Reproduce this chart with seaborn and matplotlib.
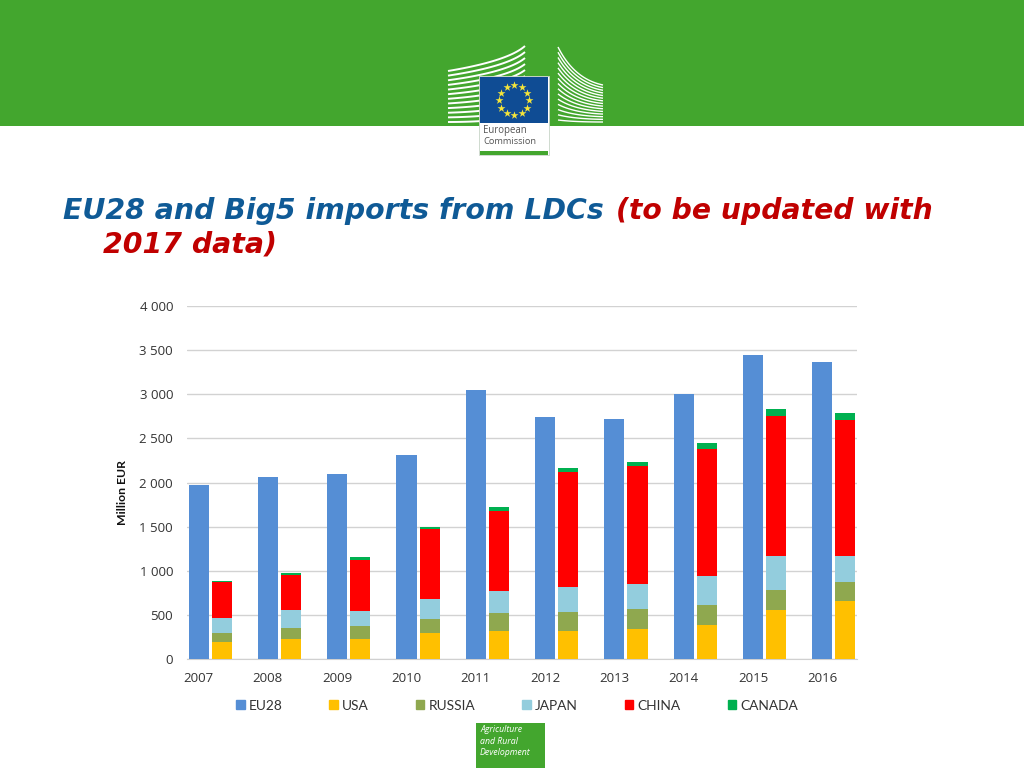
import matplotlib
matplotlib.use("Agg")
import matplotlib.pyplot as plt
from matplotlib.patches import Rectangle, Patch
import seaborn as sns
import pandas as pd
import numpy as np

years = ["2007", "2008", "2009", "2010", "2011", "2012", "2013", "2014", "2015", "2016"]
eu28 = [1970, 2062, 2096, 2311, 3048, 2738, 2722, 2998, 3440, 3361]
usa = [188, 229, 229, 293, 317, 317, 336, 381, 551, 653]
russia = [108, 120, 142, 165, 204, 215, 227, 231, 231, 215]
japan = [173, 210, 177, 221, 246, 284, 290, 332, 388, 302]
china = [401, 397, 573, 791, 906, 1306, 1333, 1435, 1587, 1537]
canada = [15, 23, 30, 25, 45, 42, 46, 64, 71, 80]
y_ticks = [0, 500, 1000, 1500, 2000, 2500, 3000, 3500, 4000]

GREEN = "#43A62E"
colors = {"EU28": "#558ED5", "USA": "#FFC000", "RUSSIA": "#8FA84F",
          "JAPAN": "#93CDDD", "CHINA": "#FF0000", "CANADA": "#00B050"}
stack_names = ["USA", "RUSSIA", "JAPAN", "CHINA", "CANADA"]
stack_values = [usa, russia, japan, china, canada]

sns.set_style("white")
plt.rcParams["font.family"] = ["Open Sans", "DejaVu Sans"]

fig = plt.figure(figsize=(10.24, 7.68), dpi=100)


def bezier(p0, p1, p2, n=40):
    t = np.linspace(0, 1, n)[:, None]
    p0, p1, p2 = np.array(p0), np.array(p1), np.array(p2)
    return (1 - t) ** 2 * p0 + 2 * t * (1 - t) * p1 + t ** 2 * p2


# slide furniture, in pixel coordinates
bg = fig.add_axes([0, 0, 1, 1], zorder=0)
bg.set_xlim(0, 1024)
bg.set_ylim(768, 0)
bg.axis("off")
bg.add_patch(Rectangle((0, 0), 1024, 126, color=GREEN, lw=0))

# building wings of the logo
for i, y in enumerate(np.linspace(71, 122, 12)):
    end_y = 46 + i * 6
    curve = bezier((448, y), (508, y - 10 * (1 - i / 11)), (525, end_y))
    bg.plot(curve[:, 0], curve[:, 1], color="white", lw=1.4, solid_capstyle="butt")
for i, (y0, y1) in enumerate(zip(np.linspace(47, 120, 15), np.linspace(85, 122, 15))):
    curve = bezier((558, y0), (574, y1 - 6 * (1 - i / 14)), (603, y1))
    bg.plot(curve[:, 0], curve[:, 1], color="white", lw=1.0, solid_capstyle="butt")

# flag and name panel
bg.add_patch(Rectangle((479, 76), 70, 79, facecolor="white", edgecolor="#C8D4C8", lw=0.6, zorder=3))
bg.add_patch(Rectangle((480, 77), 68, 46, color="#0F4C94", lw=0, zorder=4))
bg.add_patch(Rectangle((480, 151), 68, 4, color=GREEN, lw=0, zorder=4))
angles = np.deg2rad(np.arange(0, 360, 30))
bg.scatter(514 + 15 * np.cos(angles), 100 + 15 * np.sin(angles), marker="*", s=36,
           color="#F5E43A", linewidths=0, zorder=5)
bg.text(483, 131, "European", fontsize=6.9, color="#555555", va="center", zorder=5)
bg.text(483, 142, "Commission", fontsize=6.7, color="#555555", va="center", zorder=5)

# title
title_kw = dict(fontweight="bold", fontstyle="italic", family="DejaVu Sans")
bg.text(63, 219, "EU28 and Big5 imports from LDCs", color="#0F5A96", va="baseline", fontsize=20.45, **title_kw)
bg.text(616, 219, "(to be updated with", color="#C00000", va="baseline", fontsize=20.3, **title_kw)
bg.text(103, 252.5, "2017 data)", color="#C00000", va="baseline", fontsize=20.45, **title_kw)

# bottom tag
bg.add_patch(Rectangle((476, 723), 69, 45, color=GREEN, lw=0))
bg.text(480, 741, "Agriculture\nand Rural\nDevelopment", fontsize=6.3, fontstyle="italic",
        color="white", va="center", linespacing=1.35)

# chart, one slot each for EU28, the stack and a gap
slots = []
for y in years:
    slots += [y + " eu", y + " stack", y + " gap"]
slots = slots[:-1]

ax = fig.add_axes([187 / 1024, 1 - 659 / 768, 670 / 1024, 353 / 768], zorder=1)
ax.patch.set_alpha(0)

eu_df = pd.DataFrame({"slot": [y + " eu" for y in years], "value": eu28})
sns.barplot(data=eu_df, x="slot", y="value", order=slots, color=colors["EU28"],
            saturation=1, width=0.87, linewidth=0, ax=ax, zorder=3)

# stacks drawn as running totals, tallest first
totals = np.cumsum(np.array(stack_values), axis=0)
for name, total in reversed(list(zip(stack_names, totals))):
    df = pd.DataFrame({"slot": [y + " stack" for y in years], "value": total})
    sns.barplot(data=df, x="slot", y="value", order=slots, color=colors[name],
                saturation=1, width=0.87, linewidth=0, ax=ax, zorder=3)

ax.set_xlim(-0.5, len(slots) - 0.5)
ax.set_ylim(0, 4000)
ax.set_yticks(y_ticks)
ax.set_yticklabels([f"{v:,}".replace(",", " ") for v in y_ticks], fontsize=9.5, color="#333333")
ax.set_xticks(np.arange(0, len(slots), 3))
ax.set_xticklabels(years, fontsize=9.5, color="#333333")
ax.set_xticks(np.arange(len(slots) + 1) - 0.5, minor=True)
ax.tick_params(axis="x", which="major", length=0, pad=9)
ax.tick_params(axis="x", which="minor", length=4, width=0.8, color="#D0D0D0")
ax.tick_params(axis="y", length=0, pad=10)
ax.set_xlabel("")
ax.set_ylabel("Million EUR", fontsize=8.8, fontweight="bold", family="Lato", color="#111111",
              labelpad=8, y=0.473)
ax.grid(axis="y", color="#D2D2D2", lw=1)
ax.set_axisbelow(True)
for side in ["top", "right", "left"]:
    ax.spines[side].set_visible(False)
ax.spines["bottom"].set_color("#D0D0D0")

handles = [Patch(color=colors[n], label=n) for n in ["EU28"] + stack_names]
ax.legend(handles=handles, loc="center", bbox_to_anchor=(517 / 1024, 1 - 705.5 / 768),
          bbox_transform=fig.transFigure, ncol=6, frameon=False,
          prop={"family": "Lato", "size": 9.9},
          labelcolor="#333333", handlelength=0.62, handleheight=0.62,
          handletextpad=0.3, columnspacing=3.42)

fig.savefig("out.png", dpi=100)
